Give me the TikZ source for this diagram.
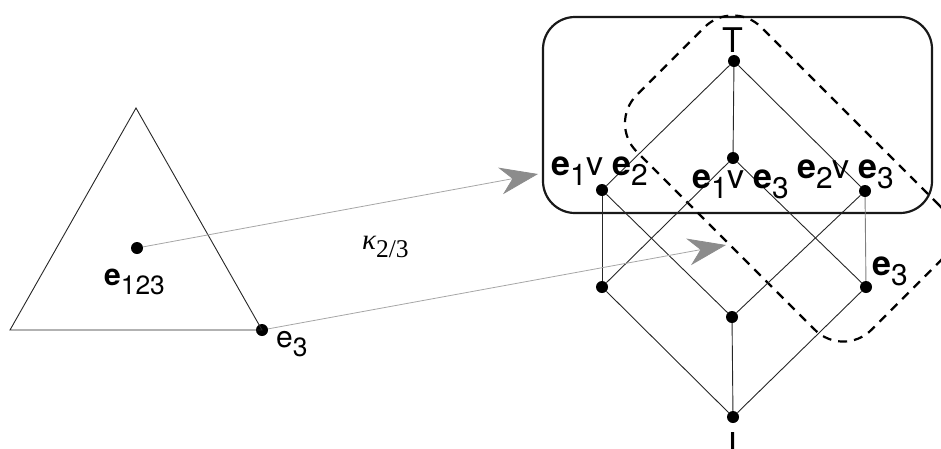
\documentclass[tikz,border=0pt]{standalone}
\usepackage{fontspec}
\setmainfont{TeX Gyre Heros}
\newfontfamily\kappafont{Liberation Serif}
\usepackage{graphicx}
\usetikzlibrary{arrows.meta}
\tikzset{
  dot/.style={circle, fill=black, inner sep=0pt, minimum size=12pt},
  edge/.style={line width=0.9pt, color=black!85},
  map arrow/.style={line width=0.8pt, color=black!35, -{Stealth[length=38pt, width=27pt, inset=12pt, color=black!45]}},
  lab/.style={anchor=base west, inner sep=0pt, font=\fontsize{34}{36}\selectfont},
  smalllab/.style={anchor=base west, inner sep=0pt, font=\fontsize{30}{32}\selectfont},
  group line/.style={line width=2.2pt, dash pattern=on 9pt off 7pt},
}
\newcommand{\lsub}[1]{\raisebox{-0.3em}{\scalebox{0.88}{#1}}}
\newcommand{\eb}[1]{\textbf{e}\lsub{#1}}

\begin{document}
\begin{tikzpicture}[x=1pt, y=-1pt]
    \useasboundingbox (0,0) rectangle (941,448);

    \coordinate (tl) at (10,330); % ----- Triangle
    \coordinate (tt) at (136,108);
    \node[dot] (te3) at (262,330) {};
    \node[dot] (t123) at (137,248) {};
    \draw[edge] (tl) -- (tt) -- (te3.center) -- cycle;
    \node[smalllab] (l123) at (104,285) {\eb{123}};
    \node[smalllab] (lte3) at (276,347) {e\lsub{3}};

    \draw[line width=2.2pt, rounded corners=32pt, color=black!90] (543,17) rectangle (932,213); % ----- Box

    \node[draw, group line, rotate=-45, minimum width=332pt, minimum height=176pt, rounded corners=40pt, inner sep=0pt] (group) at (788,178.5) {}; % ----- Dashed group

    \foreach \n/\x/\y in {top/734/61, ab/602/190, ac/733/158, bc/865/191, a/602/287, b/732/317, c/866/287, bot/733/417} % ----- Lattice
        \node[dot] (\n) at (\x,\y) {};
    \foreach \s/\t in {top/ab, top/ac, top/bc, ab/a, ab/b, ac/a, ac/c, bc/b, a/bot, b/bot, c/bot}
        \draw[edge] (\s) -- (\t);
    \draw[edge, color=black!50] (bc) -- (c);

    \node[anchor=base, inner sep=0pt, font=\fontsize{34}{36}\selectfont] (ltop) at (733,52) {T};
    \node[rotate=180, anchor=south, inner sep=0pt, font=\fontsize{34}{36}\selectfont] (lbot) at (733,432) {T};
    \node[lab] (lab) at (551,175) {\eb{1}v\hspace{0.25em}\eb{2}};
    \node[lab] (lac) at (692,188) {\eb{1}v\hspace{0.25em}\eb{3}};
    \node[lab] (lbc) at (797,178) {\eb{2}v\hspace{0.25em}\eb{3}};
    \node[lab] (lc) at (872,275) {\eb{3}};

    \coordinate (tipA) at (538,174); % ----- Maps
    \coordinate (tipB) at (726,245);
    \draw[map arrow] (t123) -- (tipA);
    \draw[map arrow] (te3) -- (tipB);
    \node[anchor=base west, inner sep=0pt, font=\fontsize{29}{31}\selectfont] (lmap) at (362,249) {\kappafont\itshape κ\lsub{\upshape 2/3}};
\end{tikzpicture}
\end{document}
